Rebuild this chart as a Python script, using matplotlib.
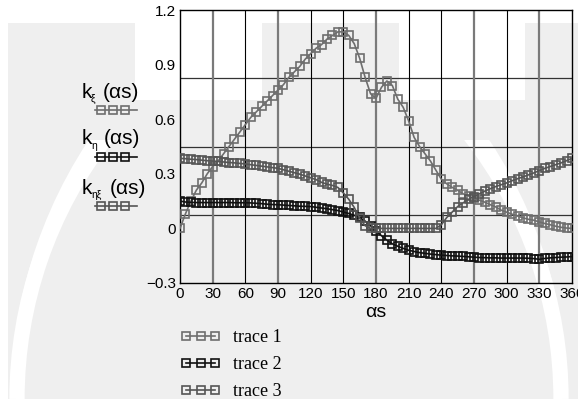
import matplotlib
matplotlib.use('Agg')
import matplotlib.pyplot as plt
from matplotlib.patches import Rectangle, Arc

plt.rcParams['font.family'] = ['Liberation Sans', 'DejaVu Sans']

# angle grid (deg) and the three traces
alpha_s = list(range(0, 361, 5))

k_xi = [0.00, 0.08, 0.15, 0.21, 0.25, 0.30, 0.34, 0.37, 0.41, 0.45,
        0.49, 0.53, 0.57, 0.61, 0.64, 0.67, 0.70, 0.73, 0.76, 0.79,
        0.83, 0.86, 0.89, 0.93, 0.96, 0.99, 1.01, 1.04, 1.06, 1.08,
        1.08, 1.06, 1.015, 0.935, 0.83, 0.74, 0.715, 0.775, 0.81, 0.785,
        0.71, 0.665, 0.59, 0.50, 0.45, 0.41, 0.37, 0.32, 0.27, 0.245,
        0.225, 0.21, 0.19, 0.178, 0.165, 0.155, 0.144, 0.13, 0.118, 0.10,
        0.089, 0.078, 0.068, 0.058, 0.05, 0.045, 0.035, 0.027, 0.02, 0.012,
        0.006, 0.002, 0.00]

k_eta = [0.15, 0.145, 0.143, 0.142, 0.142, 0.142, 0.142, 0.142, 0.142, 0.142,
         0.141, 0.141, 0.141, 0.14, 0.138, 0.136, 0.133, 0.131, 0.13, 0.128,
         0.126, 0.124, 0.122, 0.121, 0.12, 0.116, 0.112, 0.108, 0.103, 0.098,
         0.09, 0.082, 0.072, 0.06, 0.04, 0.015, -0.015, -0.04, -0.065, -0.085,
         -0.098, -0.11, -0.12, -0.127, -0.133, -0.137, -0.141, -0.144, -0.147, -0.149,
         -0.151, -0.152, -0.154, -0.156, -0.158, -0.16, -0.161, -0.162, -0.162, -0.163,
         -0.163, -0.163, -0.163, -0.163, -0.164, -0.166, -0.17, -0.165, -0.162, -0.16,
         -0.158, -0.157, -0.155]

k_etaxi = [0.385, 0.383, 0.38, 0.378, 0.375, 0.372, 0.37, 0.368, 0.365, 0.362,
           0.36, 0.357, 0.354, 0.35, 0.346, 0.342, 0.338, 0.334, 0.33, 0.322,
           0.314, 0.306, 0.298, 0.288, 0.278, 0.268, 0.253, 0.243, 0.236, 0.225,
           0.195, 0.16, 0.115, 0.055, 0.015, 0.0, 0.0, 0.0, 0.0, 0.0,
           0.0, 0.0, 0.0, 0.0, 0.0, 0.0, 0.0, 0.0, 0.02, 0.06,
           0.09, 0.12, 0.14, 0.16, 0.175, 0.19, 0.205, 0.218, 0.23, 0.24,
           0.25, 0.262, 0.273, 0.283, 0.294, 0.305, 0.318, 0.33, 0.34, 0.35,
           0.36, 0.372, 0.385]

trace_names = ['trace 1', 'trace 2', 'trace 3']
trace_colors = ['#6e6e6e', '#111111', '#555555']
side_subs = ['ξ', 'η', 'ηξ']

x_ticks = list(range(0, 361, 30))
y_ticks = [-0.3, 0, 0.3, 0.6, 0.9, 1.2]
y_ticklabels = ['\u22120.3', '0', '0.3', '0.6', '0.9', '1.2']
h_lines = [0.826, 0.449, 0.074]
gray_v = [30, 90, 180, 270, 330]

W, H = 578, 399
fig = plt.figure(figsize=(W / 100, H / 100), dpi=100)

# faint watermark in the background (figure pixel coordinates)
bg = fig.add_axes([0, 0, 1, 1], zorder=-5)
bg.set_xlim(0, W)
bg.set_ylim(H, 0)
bg.axis('off')
wm = '#efefef'
bg.add_patch(Rectangle((8, 23), 570, 376, color=wm, lw=0))
bg.add_patch(Rectangle((135, 22), 127, 78, color='white', lw=0))
bg.add_patch(Rectangle((399, 22), 126, 78, color='white', lw=0))
clip = Rectangle((0, 140), W, H - 140, transform=bg.transData)
for r, lw in ((463, 9), (428, 11)):
    for cx, t1, t2 in ((17 + r, 180, 218), (W - 17 - r, 322, 360)):
        a = bg.add_patch(Arc((cx, H), 2 * r, 2 * r, theta1=t1, theta2=t2,
                             edgecolor='white', lw=lw))
        a.set_clip_path(clip)

ax = fig.add_axes([180 / W, 1 - 283 / H, 392 / W, 273 / H])
ax.set_facecolor('none')

for y in h_lines:
    ax.axhline(y, color='#333333', lw=0.9, zorder=1)
for x in x_ticks[1:-1]:
    if x in gray_v:
        ax.axvline(x, color='#7a7a7a', lw=1.6, zorder=1)
    else:
        ax.axvline(x, color='#000000', lw=0.8, zorder=1)

lines = []
for ys, c in zip([k_xi, k_eta, k_etaxi], trace_colors):
    ln, = ax.plot(alpha_s, ys, color=c, lw=1.2, marker='s', ms=6.2,
                  mfc='none', mec=c, mew=1.2, zorder=3)
    lines.append(ln)

ax.set_xlim(0, 360)
ax.set_ylim(-0.3, 1.2)
ax.set_xticks(x_ticks)
ax.set_yticks(y_ticks)
ax.set_yticklabels(y_ticklabels)
ax.tick_params(length=0, labelsize=11, pad=3)
for s in ax.spines.values():
    s.set_linewidth(1.0)
ax.set_xlabel('αs', fontsize=14, labelpad=2)

fig.legend(lines, trace_names, loc='upper left',
           bbox_to_anchor=(172 / W, 1 - 320 / H), numpoints=3,
           frameon=False, handlelength=2.2, handletextpad=0.7,
           labelspacing=0.55, borderpad=0,
           prop={'family': 'Liberation Serif', 'size': 13})

# left-hand key: label above a short marker line
label_y = [92, 139, 188]
paren_x = [103, 104, 110]
for ly, px, sub, c in zip(label_y, paren_x, side_subs, trace_colors):
    fig.text(82 / W, 1 - ly / H, 'k', fontsize=15, ha='left', va='center')
    fig.text(91 / W, 1 - (ly + 7) / H, sub, fontsize=7.5, ha='left',
             va='center')
    fig.text(px / W, 1 - ly / H, '(αs)', fontsize=15, ha='left',
             va='center')
    yy = ly + 18
    bg.plot([95, 137], [yy, yy], color=c, lw=1.2)
    bg.plot([101, 113, 125], [yy, yy, yy], ls='none', marker='s', ms=6,
            mfc='none', mec=c, mew=1.2)

fig.savefig('out.png', dpi=100)
